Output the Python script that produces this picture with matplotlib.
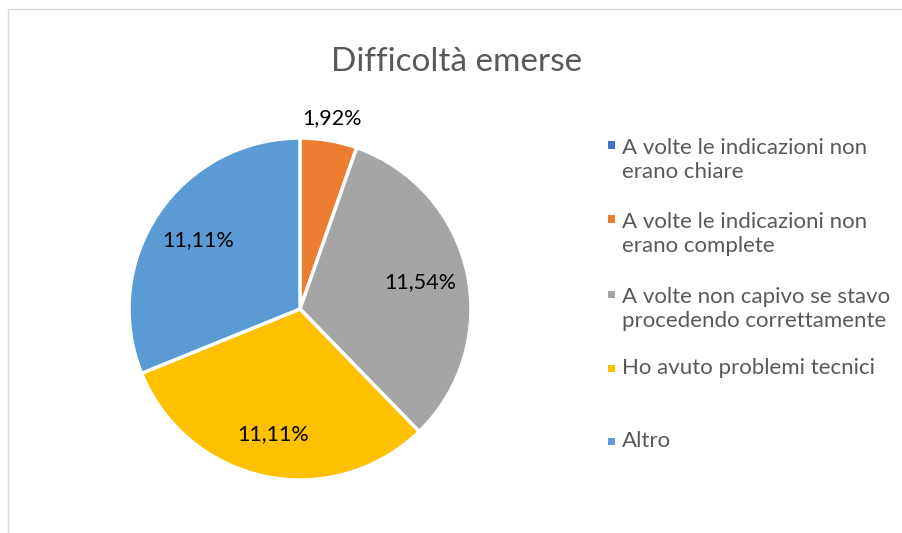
import numpy as np
import matplotlib.pyplot as plt
from matplotlib.patches import Rectangle

plt.rcParams['font.family'] = ['Lato', 'DejaVu Sans']

# answers and their shares (percent)
categories = [
    "A volte le indicazioni non\nerano chiare",
    "A volte le indicazioni non\nerano complete",
    "A volte non capivo se stavo\nprocedendo correttamente",
    "Ho avuto problemi tecnici",
    "Altro",
]
values = [0.0, 1.92, 11.54, 11.11, 11.11]
colors = ["#4472C4", "#ED7D31", "#A5A5A5", "#FFC000", "#5B9BD5"]
label_radius = [None, 1.13, 0.72, 0.75, 0.72]

fig = plt.figure(figsize=(9.03, 5.33), dpi=100)
fig.patch.set_facecolor("white")

# chart area border, running off the right and bottom edge
fig.add_artist(Rectangle((8 / 903, -0.1), 1.2, 1 - 9 / 533 + 0.1,
                         transform=fig.transFigure, fill=False,
                         edgecolor="#D9D9D9", linewidth=1.0))

fig.text(457 / 903, 1 - 62 / 533, "Difficoltà emerse", ha="center", va="center",
         fontsize=24, color="#595959")

ax = fig.add_axes([(300 - 171) / 903, (533 - 309 - 171) / 533, 342 / 903, 342 / 533])
wedges, _ = ax.pie(values, colors=colors, startangle=90, counterclock=False,
                   wedgeprops=dict(edgecolor="white", linewidth=2.5))
ax.set_xlim(-1, 1)
ax.set_ylim(-1, 1)
ax.set_aspect("equal")

for w, v, r in zip(wedges, values, label_radius):
    if v == 0:
        continue
    mid = np.deg2rad((w.theta1 + w.theta2) / 2)
    ax.text(r * np.cos(mid), r * np.sin(mid), f"{v:.2f}%".replace(".", ","),
            ha="center", va="center", fontsize=15.5, color="black", clip_on=False)

# legend on the right
legend_y = [160, 234, 309, 368, 441]
for lbl, col, y in zip(categories, colors, legend_y):
    first_line = y - 15 * lbl.count("\n")
    fig.add_artist(Rectangle((608 / 903, 1 - (first_line + 3.5) / 533),
                             7 / 903, 7 / 533, transform=fig.transFigure,
                             facecolor=col, edgecolor="none"))
    fig.text(622 / 903, 1 - y / 533, lbl, ha="left", va="center", fontsize=16,
             color="#595959", linespacing=1.3)

fig.savefig("out.png", dpi=100)
